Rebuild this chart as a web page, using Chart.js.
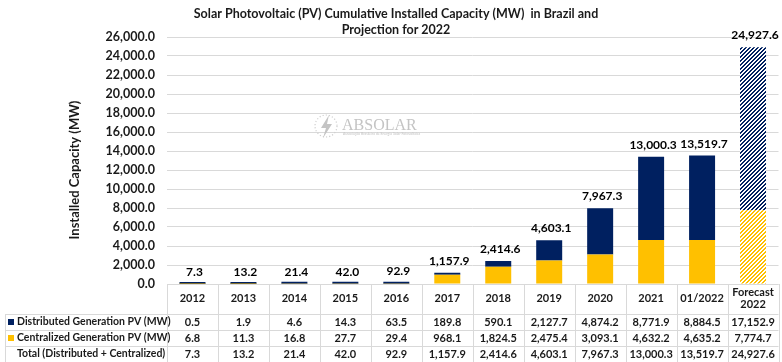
<!DOCTYPE html>
<html>
<head>
<meta charset="utf-8">
<script src="https://cdn.jsdelivr.net/npm/chart.js@4.4.0/dist/chart.umd.min.js"></script>
<style>
  html, body { margin: 0; padding: 0; background: #fff; }
  #wrap { width: 782px; height: 362px; }
</style>
</head>
<body>
<div id="wrap"><canvas id="pvChart" width="782" height="362"></canvas></div>
<script>
// ------------------------
// DATA
// ------------------------
const categories = ["2012", "2013", "2014", "2015", "2016", "2017", "2018", "2019", "2020", "2021", "01/2022", ["Forecast", "2022"]];
const distributed = [0.5, 1.9, 4.6, 14.3, 63.5, 189.8, 590.1, 2127.7, 4874.2, 8771.9, 8884.5, 17152.9];
const centralized = [6.8, 11.3, 16.8, 27.7, 29.4, 968.1, 1824.5, 2475.4, 3093.1, 4632.2, 4635.2, 7774.7];
const totals = [7.3, 13.2, 21.4, 42.0, 92.9, 1157.9, 2414.6, 4603.1, 7967.3, 13000.3, 13519.7, 24927.6];
const rowLabels = ["Distributed Generation PV (MW)", "Centralized Generation PV (MW)", "Total (Distributed + Centralized)"];
const yMax = 26000;
const yStep = 2000;

const NAVY = "#002060";
const GOLD = "#FFC000";
const FONT = "Lato, 'Open Sans', sans-serif";

const fmt = (v) => v.toLocaleString("en-US", { minimumFractionDigits: 1, maximumFractionDigits: 1 });

// hatch pattern for the forecast bar
function hatch(color) {
  const c = document.createElement("canvas");
  c.width = 4; c.height = 4;
  const g = c.getContext("2d");
  g.fillStyle = "#fff";
  g.fillRect(0, 0, 4, 4);
  g.fillStyle = color;
  for (let px = 0; px < 4; px++) {
    for (let py = 0; py < 4; py++) {
      if ((px + py) % 4 < 2) g.fillRect(px, py, 1, 1);
    }
  }
  return g.createPattern(c, "repeat");
}

const lastIdx = categories.length - 1;
const distColors = categories.map((_, i) => i === lastIdx ? hatch(NAVY) : NAVY);
const centColors = categories.map((_, i) => i === lastIdx ? hatch(GOLD) : GOLD);

// ------------------------
// PLUGINS
// ------------------------
const decorPlugin = {
  id: "decor",
  beforeDatasetsDraw(chart) {
    const { ctx } = chart;
    // ABSOLAR watermark
    ctx.save();
    ctx.strokeStyle = "#cfcfcf";
    ctx.fillStyle = "#c4c4c4";
    ctx.lineWidth = 1.2;
    ctx.setLineDash([1.2, 2]);
    ctx.beginPath();
    ctx.arc(326, 126, 11, 0, Math.PI * 2);
    ctx.stroke();
    ctx.setLineDash([]);
    ctx.beginPath();
    ctx.moveTo(329, 115); ctx.lineTo(321, 128); ctx.lineTo(326, 128);
    ctx.lineTo(323, 138); ctx.lineTo(332, 124); ctx.lineTo(327, 124);
    ctx.closePath();
    ctx.fill();
    ctx.font = "16px 'Liberation Serif', serif";
    ctx.textBaseline = "alphabetic";
    ctx.fillText("ABSOLAR", 342, 130);
    ctx.font = "3.5px " + FONT;
    ctx.fillText("Associação Brasileira de Energia Solar Fotovoltaica", 343, 135);
    ctx.restore();
  },
  afterDraw(chart) {
    const { ctx, chartArea, scales: { x, y } } = chart;
    ctx.save();

    // title
    ctx.fillStyle = "#1a1a1a";
    ctx.textAlign = "center";
    ctx.textBaseline = "middle";
    ctx.font = "bold 12.5px " + FONT;
    ctx.fillText("Solar Photovoltaic (PV) Cumulative Installed Capacity (MW)  in Brazil and", 396, 14);
    ctx.fillText("Projection for 2022", 396, 30);

    // y axis title
    ctx.save();
    ctx.font = "bold 13px " + FONT;
    ctx.translate(75, 170);
    ctx.rotate(-Math.PI / 2);
    ctx.fillText("Installed Capacity (MW)", 0, 0);
    ctx.restore();

    // total labels above the bars
    ctx.font = "bold 12px " + FONT;
    ctx.textBaseline = "alphabetic";
    ctx.fillStyle = "#000";
    totals.forEach((t, i) => {
      const stackTop = y.getPixelForValue(distributed[i] + centralized[i]);
      ctx.fillText(fmt(t), x.getPixelForValue(i) + 2, stackTop - 8);
    });

    // data table
    const n = categories.length;
    const colW = (chartArea.right - chartArea.left) / n;
    const top = chartArea.bottom;
    const headerH = 30;
    const rowH = 16;
    const tableLeft = 5;
    const bottom = top + headerH + rowH * 3;

    ctx.strokeStyle = "#d9d9d9";
    ctx.lineWidth = 1;
    ctx.beginPath();
    ctx.moveTo(chartArea.left, top + 0.5); ctx.lineTo(chartArea.right, top + 0.5);
    for (let r = 0; r <= 3; r++) {
      const ly = Math.round(top + headerH + r * rowH) + 0.5;
      ctx.moveTo(tableLeft, ly); ctx.lineTo(chartArea.right, ly);
    }
    for (let c = 0; c <= n; c++) {
      const lx = Math.round(chartArea.left + c * colW) + 0.5;
      ctx.moveTo(lx, top); ctx.lineTo(lx, bottom);
    }
    ctx.moveTo(tableLeft + 0.5, top + headerH); ctx.lineTo(tableLeft + 0.5, bottom);
    ctx.stroke();

    const rows = [distributed, centralized, totals];
    const markers = [NAVY, GOLD, null];
    ctx.textBaseline = "middle";
    rows.forEach((vals, r) => {
      const cy = top + headerH + r * rowH + rowH / 2;
      if (markers[r]) {
        ctx.fillStyle = markers[r];
        ctx.fillRect(8, cy - 3, 6, 6);
      }
      ctx.fillStyle = "#1a1a1a";
      ctx.textAlign = "left";
      ctx.font = "bold 10.5px " + FONT;
      ctx.fillText(rowLabels[r], 17, cy);
      ctx.textAlign = "center";
      ctx.font = "bold 11px " + FONT;
      vals.forEach((v, i) => ctx.fillText(fmt(v), x.getPixelForValue(i), cy));
    });

    ctx.restore();
  }
};

// ------------------------
// CHART
// ------------------------
Chart.defaults.font.family = FONT;
Chart.defaults.color = "#1a1a1a";

new Chart(document.getElementById("pvChart"), {
  type: "bar",
  data: {
    labels: categories,
    datasets: [
      { label: "Centralized Generation PV (MW)", data: centralized, backgroundColor: centColors, borderWidth: 0 },
      { label: "Distributed Generation PV (MW)", data: distributed, backgroundColor: distColors, borderWidth: 0, minBarLength: 2 }
    ]
  },
  options: {
    responsive: false,
    animation: false,
    layout: { padding: { top: 37, left: 0, right: 3, bottom: 48 } },
    plugins: {
      legend: { display: false },
      tooltip: { enabled: false }
    },
    datasets: { bar: { categoryPercentage: 1, barPercentage: 0.51 } },
    scales: {
      x: {
        stacked: true,
        grid: { display: false, drawTicks: false },
        border: { display: false },
        afterFit: (s) => { s.height = 30; },
        ticks: {
          padding: 8,
          crossAlign: "center",
          maxRotation: 0,
          autoSkip: false,
          font: { size: 11, weight: "bold", lineHeight: 1.1 },
          color: "#1a1a1a"
        }
      },
      y: {
        stacked: true,
        min: 0,
        max: yMax,
        grid: { color: "#d9d9d9", drawTicks: false },
        border: { display: false },
        afterFit: (s) => { s.width = 167; },
        ticks: {
          stepSize: yStep,
          padding: 12,
          font: { size: 12.5, weight: "bold" },
          color: "#1a1a1a",
          callback: (v) => fmt(v)
        }
      }
    }
  },
  plugins: [decorPlugin]
});
</script>
</body>
</html>
